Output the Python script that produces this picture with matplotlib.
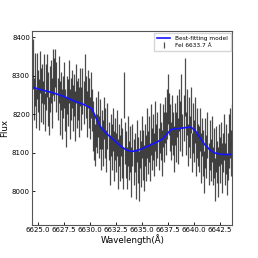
import numpy as np
import matplotlib
matplotlib.use("Agg")
import matplotlib.pyplot as plt

# observed flux, one point every 0.1 A starting at 6624.5
flux = [8330, 8240, 8290, 8215, 8300, 8260, 8225, 8310, 8250, 8280,
        8230, 8290, 8205, 8270, 8300, 8240, 8195, 8265, 8285, 8230,
        8310, 8290, 8320, 8270, 8240, 8290, 8215, 8260, 8200, 8245,
        8275, 8210, 8180, 8250, 8230, 8285, 8200, 8240, 8265, 8215,
        8250, 8195, 8280, 8225, 8240, 8205, 8270, 8215, 8260, 8230,
        8290, 8245, 8200, 8265, 8230, 8190, 8250, 8210, 8170, 8140,
        8120, 8180, 8150, 8200, 8140, 8175, 8110, 8160, 8125, 8190,
        8150, 8105, 8170, 8130, 8080, 8145, 8115, 8160, 8090, 8135,
        8100, 8150, 8070, 8120, 8085, 8140, 8100, 8060, 8250, 8125,
        8095, 8060, 8130, 8080, 8110, 8050, 8120, 8075, 8100, 8045,
        8130, 8080, 8040, 8110, 8070, 8140, 8095, 8060, 8120, 8085,
        8150, 8100, 8135, 8075, 8160, 8110, 8140, 8095, 8170, 8120,
        8145, 8110, 8165, 8130, 8100, 8170, 8140, 8185, 8150, 8200,
        8240, 8200, 8165, 8130, 8185, 8150, 8110, 8175, 8140, 8195,
        8130, 8210, 8170, 8235, 8145, 8190, 8270, 8150, 8205, 8120,
        8180, 8140, 8210, 8100, 8165, 8130, 8185, 8095, 8150, 8120,
        8110, 8160, 8085, 8140, 8100, 8050, 8125, 8090, 8145, 8070,
        8120, 8080, 8135, 8065, 8100, 8030, 8110, 8075, 8050, 8120,
        8080, 8125, 8060, 8100, 8140, 8070, 8110, 8045, 8090, 8130,
        8150, 8100, 8170]

err = [65, 55, 70, 50, 60, 55, 65, 55, 70, 50,
       55, 65, 50, 60, 55, 70, 50, 60, 55, 65,
       60, 55, 50, 65, 55, 60, 70, 50, 65, 55,
       60, 55, 65, 50, 60, 55, 65, 55, 50, 60,
       55, 65, 50, 60, 55, 65, 50, 55, 60, 55,
       65, 55, 60, 50, 65, 55, 60, 55, 65, 60,
       55, 65, 50, 60, 55, 65, 55, 50, 60, 55,
       65, 55, 60, 50, 65, 55, 60, 55, 65, 55,
       50, 60, 65, 55, 60, 50, 65, 55, 60, 55,
       60, 55, 65, 50, 60, 65, 55, 60, 50, 65,
       55, 60, 65, 50, 60, 55, 65, 60, 55, 60,
       65, 55, 60, 50, 65, 55, 60, 55, 65, 55,
       60, 55, 65, 50, 60, 55, 65, 60, 55, 65,
       65, 55, 60, 50, 65, 55, 60, 55, 65, 55,
       60, 55, 65, 70, 55, 60, 75, 55, 60, 55,
       65, 55, 60, 50, 65, 55, 60, 55, 65, 55,
       60, 55, 65, 50, 60, 55, 65, 55, 60, 55,
       65, 55, 60, 50, 65, 55, 60, 55, 65, 55,
       60, 55, 65, 50, 60, 55, 65, 55, 60, 70,
       65, 60, 55]

# best-fitting model, read at nodes
model_wave = [6624.45, 6625.5, 6626.5, 6627.5, 6628.5, 6629.5, 6630.2, 6630.6,
              6631.0, 6631.5, 6632.0, 6632.5, 6633.0, 6633.5, 6634.0, 6634.5,
              6635.0, 6635.5, 6636.0, 6636.5, 6637.0, 6637.4, 6637.8, 6638.2,
              6638.7, 6639.2, 6639.7, 6640.1, 6640.5, 6641.0, 6641.5, 6642.0,
              6642.5, 6643.0, 6643.7]
model_flux = [8270, 8262, 8255, 8246, 8234, 8224, 8214, 8190,
              8168, 8152, 8140, 8128, 8116, 8107, 8103, 8105,
              8110, 8116, 8122, 8128, 8136, 8148, 8160, 8162,
              8163, 8165, 8166, 8158, 8142, 8122, 8108, 8099,
              8096, 8095, 8095]

wave = np.round(6624.5 + 0.1 * np.arange(len(flux)), 2)

fig = plt.figure(figsize=(2.58, 2.58), dpi=100)
ax = fig.add_axes([0.124, 0.128, 0.777, 0.752])

ax.errorbar(wave, flux, yerr=err, fmt="none", ecolor="black", elinewidth=0.9,
            alpha=0.7, label="FeI 6633.7 Å")
ax.plot(model_wave, model_flux, color="#1414ff", lw=1.2, label="Best-fitting model")

ax.set_xlim(6624.45, 6643.7)
ax.set_ylim(7912, 8416)
ax.set_xticks([6625.0, 6627.5, 6630.0, 6632.5, 6635.0, 6637.5, 6640.0, 6642.5])
ax.set_xticklabels(["6625.0", "6627.5", "6630.0", "6632.5", "6635.0", "6637.5", "6640.0", "6642.5"])
ax.set_yticks([8000, 8100, 8200, 8300, 8400])
ax.tick_params(direction="in", labelsize=5, length=2.5, width=0.6, pad=1.5)
for s in ax.spines.values():
    s.set_linewidth(0.8)
    s.set_color("#555555")

ax.set_xlabel("Wavelength(Å)", fontsize=6.2, labelpad=1)
ax.set_ylabel("Flux", fontsize=6.2, labelpad=2)

ax.legend(loc="upper right", fontsize=4.2, frameon=True, handlelength=2.2,
          borderpad=0.5, labelspacing=0.4, fancybox=False, edgecolor="#cccccc",
          borderaxespad=0.3)

fig.savefig("out.png", dpi=100)
